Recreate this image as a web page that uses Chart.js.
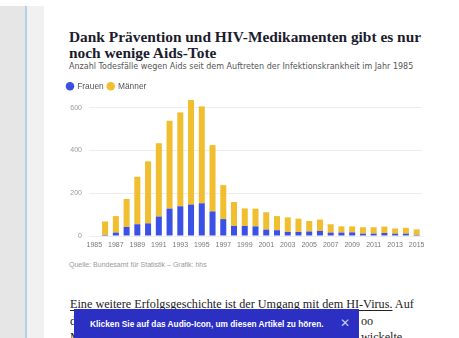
<!DOCTYPE html>
<html><head><meta charset="utf-8">
<script src="https://cdn.jsdelivr.net/npm/chart.js@4"></script>
<style>
html,body{margin:0;padding:0;}
body{width:459px;height:338px;overflow:hidden;position:relative;background:#fff;font-family:"Liberation Sans",Arial,sans-serif;}
.abs{position:absolute;white-space:nowrap;}
#lgray{left:0;top:6px;width:25px;height:332px;background:#e6e6e6;}
#bline{left:25px;top:6px;width:2px;height:332px;background:#b5d0e6;}
#lgray2{left:27px;top:6px;width:17px;height:332px;background:#f1f1f1;}
#title{left:69px;top:29px;font-family:"Liberation Serif",serif;font-weight:bold;font-size:15.4px;line-height:16px;color:#1c1c2e;}
#sub{left:69px;top:62px;font-family:"DejaVu Sans",sans-serif;font-size:8px;color:#555;}
#src{left:69px;top:261px;font-size:7px;color:#9a9a9a;}
#body1{left:70px;top:297px;font-family:"Liberation Serif",serif;font-size:12.2px;color:#222;}
#body1 u{text-decoration-thickness:1px;text-underline-offset:2px;}
#body2{left:70px;top:314px;font-family:"Liberation Serif",serif;font-size:12.2px;color:#222;}
#body2r{left:361px;top:314px;font-family:"Liberation Serif",serif;font-size:12.2px;color:#222;}
#body3{left:70px;top:330px;font-family:"Liberation Serif",serif;font-size:12.2px;color:#222;}
#body3r{left:361px;top:330px;font-family:"Liberation Serif",serif;font-size:12.2px;color:#222;}
#banner{left:74px;top:309px;width:285px;height:29px;background:#2b2fc2;}
#btext{left:90px;top:319px;font-size:8.3px;font-weight:bold;color:#fff;}
#bx{left:340px;top:316px;font-size:12px;color:#c8caf5;}
#cv{position:absolute;left:60px;top:78px;}
</style>
</head><body>
<div class="abs" id="lgray"></div>
<div class="abs" id="bline"></div>
<div class="abs" id="lgray2"></div>
<div class="abs" id="title">Dank Prävention und HIV-Medikamenten gibt es nur<br>noch wenige Aids-Tote</div>
<div class="abs" id="sub">Anzahl Todesfälle wegen Aids seit dem Auftreten der Infektionskrankheit im Jahr 1985</div>
<canvas id="cv" width="370" height="176"></canvas>
<div class="abs" id="src">Quelle: Bundesamt für Statistik – Grafik: hhs</div>
<div class="abs" id="body1"><u>Eine weitere Erfolgsgeschichte ist der Umgang mit dem HI-Virus.</u> Auf</div>
<div class="abs" id="body2">dem Höhepunkt der Epidemie starben</div>
<div class="abs" id="body2r">oo</div>
<div class="abs" id="body3">Menschen. Seitdem ent</div>
<div class="abs" id="body3r">wickelte</div>
<div class="abs" id="banner"></div>
<div class="abs" id="btext">Klicken Sie auf das Audio-Icon, um diesen Artikel zu hören.</div>
<div class="abs" id="bx">✕</div>
<script>
const years = ["1985","1986","1987","1988","1989","1990","1991","1992","1993","1994","1995","1996","1997","1998","1999","2000","2001","2002","2003","2004","2005","2006","2007","2008","2009","2010","2011","2012","2013","2014","2015"];
const frauen = [0,5,16,42,55,59,91,128,139,147,153,115,79,47,47,45,30,27,19,19,21,24,16,16,17,11,11,14,11,11,5];
const maenner = [0,63,77,131,222,290,343,411,439,489,453,310,159,112,82,83,81,66,68,62,49,53,39,29,28,30,30,30,24,27,26];
const yTicks = [0,200,400,600];

new Chart(document.getElementById('cv'), {
  type: 'bar',
  data: {
    labels: years,
    datasets: [
      {label:'Frauen', data: frauen, backgroundColor:'#3b50e4', barPercentage:0.56, categoryPercentage:1},
      {label:'Männer', data: maenner, backgroundColor:'#f0be2e', barPercentage:0.56, categoryPercentage:1}
    ]
  },
  options: {
    responsive:false, animation:false,
    layout:{padding:{left:3,right:8,top:0,bottom:0}},
    plugins:{
      tooltip:{enabled:false},
      legend:{
        position:'top', align:'start', maxHeight:19,
        labels:{usePointStyle:true, pointStyle:'circle', boxWidth:6, boxHeight:6, padding:4,
          color:'#555', font:{family:'Liberation Sans', size:8.4}}
      }
    },
    scales:{
      x:{stacked:true,
        grid:{display:false, drawTicks:false}, border:{display:false},
        afterFit:(s)=>{s.height=18;},
        ticks:{autoSkip:false, maxRotation:0, minRotation:0, padding:5, color:'#777',
          font:{family:'Liberation Sans', size:7},
          callback:function(v,i){return i%2===0 ? years[i] : '';}}
      },
      y:{stacked:true, min:0, max:650,
        afterBuildTicks:(s)=>{s.ticks = yTicks.map(v=>({value:v}));},
        afterFit:(s)=>{s.width=26;},
        grid:{color:'#ededed', drawTicks:false}, border:{display:false},
        ticks:{padding:7, color:'#999', font:{family:'Liberation Sans', size:7}}
      }
    }
  }
});
</script>
</body></html>
